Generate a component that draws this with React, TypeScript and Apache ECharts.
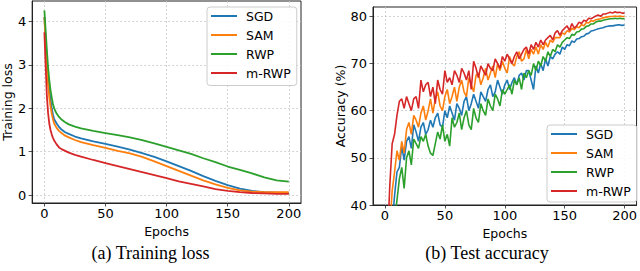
import React, { useEffect, useRef } from "react";
import * as echarts from "echarts";

const methods = ["SGD", "SAM", "RWP", "m-RWP"];
const colors = ["#1f77b4", "#ff7f0e", "#2ca02c", "#d62728"];

const lossEpochs = [0, 1, 2, 3, 4, 5, 6, 7, 8, 10, 12, 14, 17, 20, 25, 30, 40, 50, 60, 70, 80, 90, 100, 110, 120, 130, 140, 150, 160, 170, 180, 190, 200];
const lossSGD = [4.1, 3.6, 3.1, 2.7, 2.4, 2.2, 2.0, 1.86, 1.75, 1.65, 1.57, 1.51, 1.45, 1.41, 1.35, 1.31, 1.24, 1.18, 1.12, 1.05, 0.97, 0.88, 0.78, 0.67, 0.56, 0.44, 0.33, 0.23, 0.15, 0.1, 0.07, 0.06, 0.05];
const lossSAM = [4.1, 3.5, 2.95, 2.55, 2.25, 2.05, 1.88, 1.75, 1.65, 1.55, 1.48, 1.43, 1.37, 1.33, 1.27, 1.22, 1.15, 1.09, 1.02, 0.96, 0.88, 0.78, 0.67, 0.56, 0.45, 0.34, 0.25, 0.17, 0.11, 0.08, 0.07, 0.07, 0.07];
const lossRWP = [4.25, 3.8, 3.35, 2.95, 2.65, 2.42, 2.25, 2.1, 2.0, 1.88, 1.8, 1.74, 1.68, 1.63, 1.58, 1.54, 1.48, 1.43, 1.38, 1.33, 1.27, 1.19, 1.11, 1.03, 0.95, 0.85, 0.76, 0.66, 0.58, 0.5, 0.41, 0.34, 0.31];
const lossMRWP = [3.75, 3.0, 2.3, 1.9, 1.65, 1.5, 1.4, 1.32, 1.26, 1.17, 1.1, 1.06, 1.02, 0.98, 0.93, 0.89, 0.81, 0.74, 0.67, 0.6, 0.53, 0.46, 0.39, 0.32, 0.26, 0.2, 0.14, 0.1, 0.07, 0.05, 0.04, 0.03, 0.03];

const accEpochs = Array.from({ length: 101 }, (_, i) => i * 2);
const accSGD = [
  12, 20, 28, 36, 42, 47, 48, 52.5, 49.5, 53.5,
  54.5, 52, 57, 55.5, 53.5, 56.5, 57.5, 55, 56, 58,
  56.5, 58.5, 59.5, 57, 56.5, 60, 58.5, 61, 59.5, 58,
  61.5, 60.5, 59, 62, 63, 60, 61.5, 63.5, 62, 60.5,
  64, 63, 62, 64.5, 65.5, 63, 64, 66.5, 65, 63.5,
  65.5, 66.5, 64.5, 66, 67, 65.5, 67.5, 68, 66.5, 68.5,
  68.5, 66.5, 64.5, 69.5, 68, 70, 68.5, 71, 69.5, 71.5,
  71, 72, 72.5, 72, 73.5, 73, 74, 73.8, 74.8, 74.5,
  75.2, 75.3, 75.7, 75.8, 76.3, 76.4, 76.9, 77, 77.2, 77.4,
  77.5, 77.6, 77.8, 77.9, 78, 78, 78.1, 78.2, 78.2, 78.1,
  78.2,
];
const accSAM = [
  15, 25, 35, 43, 47, 51.5, 49.5, 53.5, 51, 56,
  57.5, 55, 59, 58, 56.5, 59.5, 61, 58, 60, 62.5,
  59.5, 62.5, 64, 61, 60, 63, 64.5, 61.5, 63, 65,
  62, 65, 66.5, 64, 63, 67, 65.5, 64, 67.5, 68,
  65.5, 67, 69, 66.5, 68, 69.5, 67, 70, 68.5, 70.5,
  69, 68, 71.5, 70, 69.5, 71.5, 72.5, 70.5, 71, 73,
  71, 73, 72, 73.5, 72, 74, 73, 74.5, 73.5, 75,
  74.5, 75.5, 75.5, 75.5, 76.5, 76.2, 77, 76.7, 77.5, 77.2,
  77.8, 77.6, 78.3, 78, 78.7, 78.6, 79.1, 79, 79.3, 79.4,
  79.5, 79.7, 79.8, 79.9, 80, 80, 80.1, 80, 80.1, 80,
  80,
];
const accRWP = [
  10, 16, 24, 31, 37, 41, 45.5, 48, 43.5, 50,
  51.5, 48.5, 54, 53, 52, 54.5, 53.5, 55, 52.5, 51,
  50.5, 53, 55.5, 54, 57, 53.5, 55, 52.5, 58.5, 56.5,
  57.5, 59.5, 56, 58.5, 60, 57, 56, 60.5, 58.5, 57.5,
  61.5, 60, 59, 62.5, 61, 60, 63.5, 62.5, 61, 64.5,
  63.5, 64.5, 65.5, 63.5, 66.5, 65.5, 67, 64.5, 68, 67,
  68.5, 67.5, 70, 68.5, 70.5, 69.5, 71.5, 70.5, 72.5, 71.5,
  73, 72.5, 74, 73.5, 74.5, 75, 75.5, 75.3, 76.2, 76,
  76.7, 76.8, 77.3, 77.4, 77.9, 78, 78.4, 78.4, 78.8, 79,
  79, 79.2, 79.3, 79.4, 79.5, 79.5, 79.6, 79.5, 79.6, 79.5,
  79.5,
];
const accMRWP = [
  20, 32, 44, 53, 55, 59, 62, 62.5, 60.5, 63,
  61.5, 60, 62.5, 63, 60.5, 66.5, 64, 65.5, 66, 63,
  65, 61.5, 66.5, 64.5, 63.5, 68.5, 66, 67, 65.5, 68.5,
  67.5, 66, 69, 68, 66.5, 68.5, 64.5, 70.5, 69, 67,
  69.5, 68.5, 67.5, 70, 69, 68.5, 71, 70, 69, 71.5,
  70.5, 72, 71, 70, 71.5, 72.5, 71, 72, 73, 73.5,
  72, 74, 73, 74.5, 73.5, 75, 74, 75, 75.5, 76,
  75, 76.5, 77, 76, 77, 77.5, 78, 77, 78.5, 77.5,
  78, 78.8, 78.5, 79.2, 79, 79.6, 79.5, 79.8, 80.1, 80.3,
  80, 80.5, 80.5, 80.7, 80.9, 80.7, 81, 80.8, 80.9, 80.7,
  80.7,
];

const xTicks = [0, 50, 100, 150, 200];
const lossTicks = [0, 1, 2, 3, 4];
const accTicks = [40, 50, 60, 70, 80];
const captions = ["(a) Training loss", "(b) Test accuracy"];

const pair = (xs: number[], ys: number[]) => xs.map((x, i) => [x, ys[i]]);

export default function App() {
  const ref = useRef<HTMLDivElement>(null);
  useEffect(() => {
    document.body.style.margin = "0";
    const chart = echarts.init(ref.current!, null, { renderer: "svg" });
    const font = "DejaVu Sans";
    const axisCommon = (ticks: number[], margin: number) => ({
      axisLine: { show: true, onZero: false, lineStyle: { color: "#222", width: 1 } },
      axisTick: { show: true, inside: false, length: 3.5, customValues: ticks, lineStyle: { color: "#222", width: 0.8 } },
      axisLabel: { customValues: ticks, color: "#000", fontFamily: font, fontSize: 13, margin },
      splitLine: { show: true, lineStyle: { color: "#c8c8c8", width: 0.8, type: [2, 2] } },
      nameTextStyle: { color: "#000", fontFamily: font, fontSize: 12.5 },
    });
    const lossSets = [lossSGD, lossSAM, lossRWP, lossMRWP];
    const accSets = [accSGD, accSAM, accRWP, accMRWP];
    const series: any[] = [];
    methods.forEach((m, i) => {
      series.push({
        name: m, type: "line", xAxisIndex: 0, yAxisIndex: 0, showSymbol: false,
        data: pair(lossEpochs, lossSets[i]), color: colors[i],
        lineStyle: { color: colors[i], width: 1.8 }, clip: true, z: 2 + i,
      });
    });
    methods.forEach((m, i) => {
      series.push({
        name: m, type: "line", xAxisIndex: 1, yAxisIndex: 1, showSymbol: false,
        data: pair(accEpochs, accSets[i]), color: colors[i],
        lineStyle: { color: colors[i], width: 1.6 }, clip: true, z: 2 + i,
      });
    });
    const legendCommon = {
      orient: "vertical",
      data: methods,
      icon: "rect",
      itemWidth: 26,
      itemHeight: 2,
      itemGap: 6,
      backgroundColor: "rgba(255,255,255,0.85)",
      borderColor: "#cccccc",
      borderWidth: 1,
      borderRadius: 3,
      selectedMode: false,
      textStyle: { color: "#000", fontFamily: font, fontSize: 12.5, lineHeight: 12, padding: [0, 0, 0, 4] },
    };
    chart.setOption({
      animation: false,
      backgroundColor: "#fff",
      grid: [
        { left: 29, top: 1, width: 272, height: 202, show: true, borderColor: "#222", borderWidth: 1, backgroundColor: "transparent" },
        { left: 373, top: 7, width: 264, height: 198, show: true, borderColor: "#222", borderWidth: 1, backgroundColor: "transparent" },
      ],
      xAxis: [
        { type: "value", gridIndex: 0, min: -10, max: 210, name: "Epochs", nameLocation: "middle", nameGap: 20, ...axisCommon(xTicks, 4) },
        { type: "value", gridIndex: 1, min: -10, max: 210, name: "Epochs", nameLocation: "middle", nameGap: 20, ...axisCommon(xTicks, 4) },
      ],
      yAxis: [
        { type: "value", gridIndex: 0, min: -0.18, max: 4.47, name: "Training loss", nameLocation: "middle", nameGap: 17, ...axisCommon(lossTicks, 6) },
        { type: "value", gridIndex: 1, min: 40, max: 82, name: "Accuracy (%)", nameLocation: "middle", nameGap: 26, ...axisCommon(accTicks, 6) },
      ],
      legend: [
        { ...legendCommon, left: 207, top: 7, padding: [2.5, 6, 6, 4] },
        { ...legendCommon, left: 547, top: 125, padding: [2.5, 6, 4.5, 4] },
      ],
      graphic: [
        { type: "text", x: 150.5, y: 253, style: { text: captions[0], fontFamily: "Liberation Serif", fontSize: 18, fill: "#000", textAlign: "center", textVerticalAlign: "middle" } },
        { type: "text", x: 487, y: 253, style: { text: captions[1], fontFamily: "Liberation Serif", fontSize: 18, fill: "#000", textAlign: "center", textVerticalAlign: "middle" } },
      ],
      series,
    });
    return () => chart.dispose();
  }, []);
  return <div ref={ref} style={{ width: 640, height: 271 }} />;
}
